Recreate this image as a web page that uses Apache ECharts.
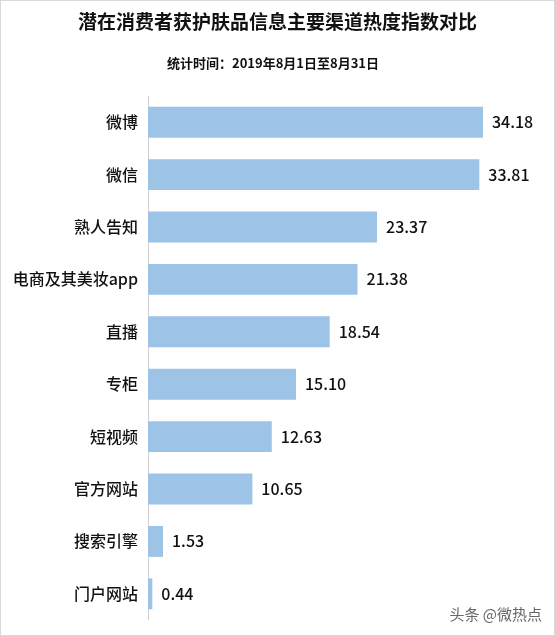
<!DOCTYPE html>
<html><head><meta charset="utf-8">
<script src="https://cdn.jsdelivr.net/npm/echarts@6/dist/echarts.min.js"></script>
<style>
html,body{margin:0;padding:0;background:#fff;}
#c{width:553px;height:634px;border:1px solid #d9d9d9;}
</style></head>
<body><div id="c"></div>
<script>
const titleText = '潜在消费者获护肤品信息主要渠道热度指数对比';
const subtitleText = '统计时间：2019年8月1日至8月31日';
const categories = ['微博','微信','熟人告知','电商及其美妆app','直播','专柜','短视频','官方网站','搜索引擎','门户网站'];
const values = [34.18, 33.81, 23.37, 21.38, 18.54, 15.10, 12.63, 10.65, 1.53, 0.44];
const watermark = '头条 @微热点';

const chart = echarts.init(document.getElementById('c'), null, {renderer:'canvas'});
chart.setOption({
  animation:false,
  backgroundColor:'#fff',
  title:[
    {text:titleText,left:72,top:6,textStyle:{fontFamily:'Noto Sans CJK SC',fontSize:19,fontWeight:'bold',color:'#111'}},
    {text:subtitleText,left:161,top:51,textStyle:{fontFamily:'Noto Sans CJK SC',fontSize:13,fontWeight:'bold',color:'#111'}}
  ],
  grid:{left:147,top:95,width:392,height:524,containLabel:false},
  xAxis:{type:'value',min:0,max:40,show:false},
  yAxis:{type:'category',data:categories,inverse:true,
    axisLine:{show:true,lineStyle:{color:'#d0d0d0',width:1}},
    axisTick:{show:false},
    axisLabel:{margin:10,fontFamily:'Noto Sans CJK SC',fontSize:16,fontWeight:500,color:'#111'}
  },
  series:[{type:'bar',data:values,barCategoryGap:'41%',
    itemStyle:{color:'#9dc3e6'},
    label:{show:true,position:'right',distance:9,fontFamily:'Noto Sans CJK SC',fontSize:16,fontWeight:500,color:'#111',
      formatter:p=>p.value.toFixed(2)}
  }],
  graphic:[{type:'text',right:12,top:606,style:{text:watermark,fontFamily:'Noto Sans CJK SC',fontSize:15,fill:'#666'}}]
});
</script></body></html>
